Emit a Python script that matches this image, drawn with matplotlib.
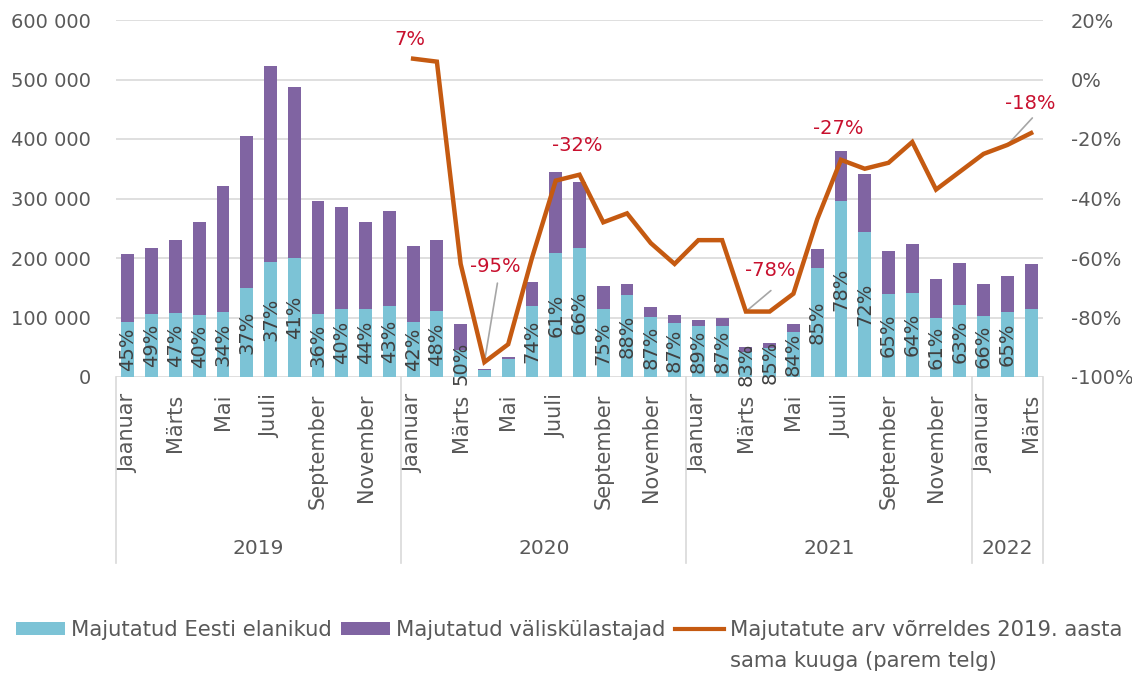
import numpy as np
import matplotlib
matplotlib.use("Agg")
import matplotlib.pyplot as plt
from matplotlib.ticker import FuncFormatter
from matplotlib.lines import Line2D
from matplotlib.patches import Patch

# ====== DATA ======
YEARS = ["2019", "2020", "2021", "2022"]
MONTHS_PER_YEAR = [12, 12, 12, 3]
MONTHS = ["Jaanuar", "Veebruar", "Märts", "Aprill", "Mai", "Juuni",
          "Juuli", "August", "September", "Oktoober", "November", "Detsember"]

# majutatud Eesti elanikud
estonian = [93000, 106000, 108000, 104000, 109000, 150000, 194000, 200000, 106000, 115000, 115000, 120000,
            93000, 111000, 45000, 11000, 31000, 119000, 209000, 217000, 115000, 137000, 101000, 91000,
            85000, 86000, 42000, 48000, 75000, 183000, 295000, 243000, 139000, 142000, 100000, 121000,
            103000, 109000, 114000]
# majutatud väliskülastajad
foreign = [114000, 110000, 123000, 157000, 212000, 255000, 329000, 287000, 189000, 171000, 146000, 159000,
           128000, 120000, 44000, 2000, 3000, 41000, 136000, 111000, 38000, 19000, 16000, 14000,
           10000, 13000, 9000, 9000, 14000, 32000, 84000, 98000, 73000, 82000, 64000, 71000,
           53000, 60000, 76000]
# Eesti elanike osakaal (silt tulpadel), None = silti pole
share_labels = [45, 49, 47, 40, 34, 37, 37, 41, 36, 40, 44, 43,
                42, 48, 50, None, None, 74, 61, 66, 75, 88, 87, 87,
                89, 87, 83, 85, 84, 85, 78, 72, 65, 64, 61, 63,
                66, 65, None]
# muutus võrreldes 2019 sama kuuga, alates 2020 jaanuarist (%)
change_vs_2019 = [7, 6, -62, -95, -89, -60, -34, -32, -48, -45, -55, -62,
                  -54, -54, -78, -78, -72, -47, -27, -30, -28, -21, -37, -31,
                  -25, -22, -18]
# punased sildid joonel: (indeks joonel, tekst)
line_labels = [(0, "7%"), (3, "-95%"), (7, "-32%"), (14, "-78%"), (18, "-27%"), (26, "-18%")]
# ==================

TEAL = "#7CC3D6"
PURPLE = "#8064A2"
ORANGE = "#C55A11"
RED = "#C8102E"
GREY_TXT = "#595959"
GRID = "#D9D9D9"

plt.rcParams["font.family"] = ["DejaVu Sans"]

fig = plt.figure(figsize=(11.32, 6.76), dpi=100)
ax = fig.add_axes([116 / 1132, 1 - 377 / 676, (1043 - 116) / 1132, (377 - 20) / 676])

n = len(estonian)
x = np.arange(n)
est = np.array(estonian)
fr = np.array(foreign)

ax.bar(x, est, width=0.54, color=TEAL, zorder=2)
ax.bar(x, fr, width=0.54, bottom=est, color=PURPLE, zorder=2)

ax.set_xlim(-0.5, n - 0.5)
ax.set_ylim(0, 600000)
ax.set_yticks(np.arange(0, 600001, 100000))
ax.yaxis.set_major_formatter(FuncFormatter(lambda v, p: f"{int(v):,}".replace(",", " ")))
ax.grid(axis="y", color=GRID, lw=1.2, zorder=0)
ax.set_axisbelow(True)
for s in ax.spines.values():
    s.set_visible(False)
ax.tick_params(axis="y", length=0, pad=18, labelsize=14, labelcolor=GREY_TXT)

# month ticks, every other month shown
month_names = []
for cnt in MONTHS_PER_YEAR:
    for m in range(cnt):
        month_names.append(MONTHS[m] if m % 2 == 0 else "")
ax.set_xticks(x)
ax.set_xticklabels(month_names, rotation=90, fontsize=15, color=GREY_TXT)
ax.tick_params(axis="x", length=0, pad=12)

# year groups and separators
start = 0
bounds = [0]
for yr, cnt in zip(YEARS, MONTHS_PER_YEAR):
    mid = start + (cnt - 1) / 2
    ax.text(mid, -0.479, yr, transform=ax.get_xaxis_transform(), ha="center", va="center",
            fontsize=14.5, color=GREY_TXT)
    start += cnt
    bounds.append(start)
for b in bounds:
    ax.add_line(Line2D([b - 0.5, b - 0.5], [0, -0.52], transform=ax.get_xaxis_transform(),
                       color=GRID, lw=1.2, clip_on=False))

# share labels inside teal part
for i, lab in enumerate(share_labels):
    if lab is None:
        continue
    ax.text(i, est[i] / 2, f"{lab}%", rotation=90, ha="center", va="center",
            fontsize=14, color="#404040", zorder=4)

# right axis with change line
ax2 = ax.twinx()
ax2.set_ylim(-100, 20)
ax2.set_yticks(np.arange(-100, 21, 20))
ax2.yaxis.set_major_formatter(FuncFormatter(lambda v, p: f"{int(round(v))}%"))
for s in ax2.spines.values():
    s.set_visible(False)
ax2.tick_params(axis="y", length=0, pad=20, labelsize=14, labelcolor=GREY_TXT)

lx = np.arange(12, 12 + len(change_vs_2019))
ax2.plot(lx, change_vs_2019, color=ORANGE, lw=3.2, zorder=5, solid_joinstyle="miter")

offsets = {"7%": (-3, 19), "-95%": (11, 96), "-32%": (-2, 29), "-78%": (24, 41), "-27%": (-3, 31), "-18%": (-1, 30)}
for idx, txt in line_labels:
    xi, yi = lx[idx], change_vs_2019[idx]
    dx, dy = offsets[txt]
    ax2.annotate(txt, (xi, yi), xytext=(dx, dy), textcoords="offset pixels",
                 ha="center", va="center", fontsize=14, color=RED, zorder=6)
# leader lines
leaders = [(3, (13, 79)), (14, (25, 21)), (25, (25, 27))]
for idx, (dx, dy) in leaders:
    ax2.annotate("", (lx[idx], change_vs_2019[idx]), xytext=(dx, dy), textcoords="offset pixels",
                 arrowprops=dict(arrowstyle="-", color="#A6A6A6", lw=1.2, shrinkA=0, shrinkB=0))

# legend
handles = [Patch(facecolor=TEAL), Patch(facecolor=PURPLE), Line2D([], [], color=ORANGE, lw=3)]
labels = ["Majutatud Eesti elanikud", "Majutatud väliskülastajad", "Majutatute arv võrreldes 2019. aasta"]
leg = fig.legend(handles, labels, loc="center", bbox_to_anchor=(0.503, 1 - 630 / 676), ncol=3,
                 frameon=False, fontsize=15.2, handlelength=2.3, handleheight=0.6,
                 handletextpad=0.3, columnspacing=0.45, borderpad=0)
for t in leg.get_texts():
    t.set_color(GREY_TXT)

fig.canvas.draw()
bb = leg.get_texts()[2].get_window_extent(fig.canvas.get_renderer())
fig.text(bb.x0 / fig.bbox.width, 1 - 661 / 676, "sama kuuga (parem telg)", ha="left", va="center",
         fontsize=15.2, color=GREY_TXT)

fig.savefig("out.png", dpi=100)
